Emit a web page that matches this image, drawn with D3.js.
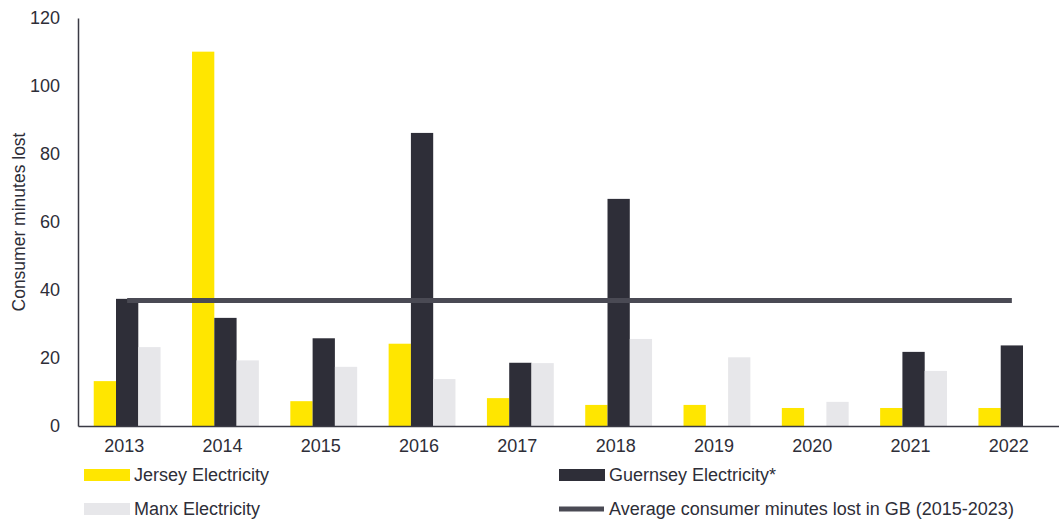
<!DOCTYPE html>
<html>
<head>
<meta charset="utf-8">
<script src="https://cdn.jsdelivr.net/npm/d3@7"></script>
<style>
  body { margin: 0; background: #fff; }
  svg { display: block; font-family: "Liberation Sans", Arial, sans-serif; }
</style>
</head>
<body>
<div id="chart"></div>
<script>
// data
const years = ['2013', '2014', '2015', '2016', '2017', '2018', '2019', '2020', '2021', '2022'];
const jersey = [13.2, 110.1, 7.3, 24.2, 8.2, 6.2, 6.2, 5.3, 5.3, 5.3];
const guernsey = [37.4, 31.8, 25.8, 86.2, 18.6, 66.8, null, null, 21.8, 23.7];
const manx = [23.2, 19.3, 17.4, 13.8, 18.5, 25.6, 20.2, 7.1, 16.2, null];
const gbAverage = 36.9;
const yTicks = [0, 20, 40, 60, 80, 100, 120];

const seriesNames = ['Jersey Electricity', 'Guernsey Electricity*', 'Manx Electricity'];
const seriesColors = ['#FFE600', '#2E2E38', '#E7E7EA'];
const lineName = 'Average consumer minutes lost in GB (2015-2023)';
const lineColor = '#4A4A54';
const textColor = '#2E2E38';

const W = 1059, H = 520;
const margin = {top: 18, left: 78, bottom: 94};
const plotRight = 1061; // axis runs off the right edge

const svg = d3.select('#chart').append('svg')
  .attr('width', W).attr('height', H);

const x0 = d3.scaleBand().domain(years)
  .range([margin.left, plotRight])
  .paddingInner(0.32).paddingOuter(0.16);
const x1 = d3.scaleBand().domain(d3.range(3))
  .range([0, x0.bandwidth()]);
const y = d3.scaleLinear().domain([0, 120])
  .range([H - margin.bottom, margin.top]);

// bars
const rows = years.map((yr, i) => ({year: yr, vals: [jersey[i], guernsey[i], manx[i]]}));
const groups = svg.append('g').selectAll('g').data(rows).join('g')
  .attr('transform', d => `translate(${x0(d.year)},0)`);
groups.selectAll('rect')
  .data(d => d.vals.map((v, k) => ({k, v})).filter(e => e.v != null))
  .join('rect')
  .attr('x', e => x1(e.k))
  .attr('width', x1.bandwidth())
  .attr('y', e => y(e.v))
  .attr('height', e => y(0) - y(e.v))
  .attr('fill', e => seriesColors[e.k]);

// GB average line, from first to last category centre
const line = d3.line().x(d => x0(d) + x0.bandwidth() / 2).y(() => y(gbAverage));
svg.append('path')
  .datum([years[0], years[years.length - 1]])
  .attr('d', line)
  .attr('fill', 'none')
  .attr('stroke', lineColor)
  .attr('stroke-width', 5);

// axes
const yAxis = d3.axisLeft(y).tickValues(yTicks).tickSize(0).tickPadding(18);
svg.append('g')
  .attr('transform', `translate(${margin.left},0)`)
  .call(yAxis)
  .call(g => g.select('.domain').attr('stroke', '#3a3a44').attr('stroke-width', 1.5))
  .call(g => g.selectAll('text').attr('fill', textColor).style('font-size', '18px'));

const xAxis = d3.axisBottom(x0).tickSize(0).tickPadding(13);
svg.append('g')
  .attr('transform', `translate(0,${y(0)})`)
  .call(xAxis)
  .call(g => g.select('.domain').attr('stroke', '#3a3a44').attr('stroke-width', 1.5))
  .call(g => g.selectAll('text').attr('fill', textColor).style('font-size', '18px').attr('dx', '-3'));

// y title
svg.append('text')
  .attr('transform', `translate(25,${(margin.top + y(0)) / 2}) rotate(-90)`)
  .attr('text-anchor', 'middle')
  .attr('fill', textColor)
  .style('font-size', '17.5px')
  .text('Consumer minutes lost');

// legend
const legend = svg.append('g').style('font-size', '18px').attr('fill', textColor);
const legendItems = [
  {name: seriesNames[0], color: seriesColors[0], x: 84, y: 475, type: 'rect'},
  {name: seriesNames[1], color: seriesColors[1], x: 559, y: 475, type: 'rect'},
  {name: seriesNames[2], color: seriesColors[2], x: 84, y: 509, type: 'rect'},
  {name: lineName, color: lineColor, x: 559, y: 509, type: 'line'}
];
legendItems.forEach(d => {
  if (d.type === 'rect') {
    legend.append('rect').attr('x', d.x).attr('y', d.y - 6).attr('width', 46).attr('height', 12).attr('fill', d.color);
  } else {
    legend.append('line').attr('x1', d.x).attr('x2', d.x + 45).attr('y1', d.y).attr('y2', d.y)
      .attr('stroke', d.color).attr('stroke-width', 5);
  }
  legend.append('text').attr('x', d.x + 50).attr('y', d.y).attr('dy', '0.35em').text(d.name);
});
</script>
</body>
</html>
